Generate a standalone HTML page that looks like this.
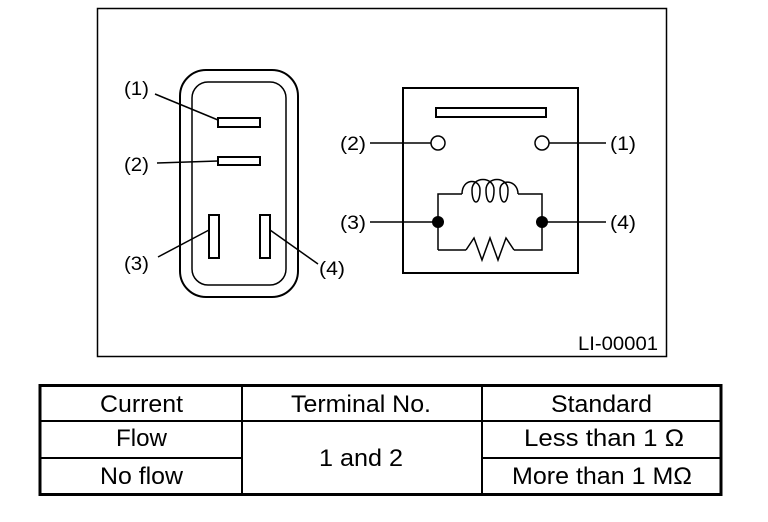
<!DOCTYPE html>
<html><head><style>
body{margin:0;background:#fff;width:768px;height:522px;overflow:hidden;}
svg{position:absolute;left:0;top:0}
text{font-family:"Liberation Sans",Arial,sans-serif;fill:#000}
</style></head><body>
<svg width="768" height="522" viewBox="0 0 768 522">
<g fill="none" stroke="#000">
<rect x="97.5" y="8.5" width="569" height="348" stroke-width="1.5"/>
<rect x="180" y="70" width="118" height="227" rx="26" stroke-width="2"/>
<rect x="192" y="82" width="94" height="203" rx="16" stroke-width="1.5"/>
<rect x="218" y="118" width="42" height="9" stroke-width="2"/>
<rect x="218" y="157" width="42" height="8" stroke-width="2"/>
<rect x="209" y="215" width="10" height="43" stroke-width="2"/>
<rect x="260" y="215" width="10" height="43" stroke-width="2"/>
<line x1="155" y1="94" x2="218" y2="120" stroke-width="1.5"/>
<line x1="157" y1="163" x2="218" y2="161" stroke-width="1.5"/>
<line x1="158" y1="257" x2="209" y2="230" stroke-width="1.5"/>
<line x1="270" y1="230" x2="318" y2="264" stroke-width="1.5"/>
<rect x="403" y="88" width="175" height="185" stroke-width="2"/>
<rect x="436" y="108" width="110" height="9" stroke-width="2"/>
<circle cx="438" cy="143" r="7" stroke-width="1.5"/>
<circle cx="542" cy="143" r="7" stroke-width="1.5"/>
<line x1="370" y1="143" x2="431" y2="143" stroke-width="1.5"/>
<line x1="549" y1="143" x2="606" y2="143" stroke-width="1.5"/>
<line x1="370" y1="222" x2="438" y2="222" stroke-width="1.5"/>
<line x1="542" y1="222" x2="606" y2="222" stroke-width="1.5"/>
<path d="M438 250V194H462 M518 194H542V250H514 M466 250H438" stroke-width="1.5"/>
<path d="M462 194C462 178 480 178 480 190 C480 206 472 206 472 190 C472 176 494 176 494 190 C494 206 486 206 486 190 C486 176 508 176 508 190 C508 206 500 206 500 190 C500 178 518 180 518 194" stroke-width="1.5"/>
<path d="M466 250L474 238L482 260L490 238L498 260L506 238L514 250" stroke-width="1.5"/>
<rect x="40" y="385.5" width="681" height="109" stroke-width="3"/>
<line x1="40" y1="421" x2="721" y2="421" stroke-width="2"/>
<line x1="40" y1="458" x2="242" y2="458" stroke-width="2"/>
<line x1="482" y1="458" x2="721" y2="458" stroke-width="2"/>
<line x1="242" y1="385" x2="242" y2="495" stroke-width="2"/>
<line x1="482" y1="385" x2="482" y2="495" stroke-width="2"/>
</g>
<circle cx="438" cy="222" r="6"/>
<circle cx="542" cy="222" r="6"/>
<g font-size="19">
<text x="124" y="95" textLength="25" lengthAdjust="spacingAndGlyphs">(1)</text>
<text x="124" y="171" textLength="25" lengthAdjust="spacingAndGlyphs">(2)</text>
<text x="124" y="270" textLength="25" lengthAdjust="spacingAndGlyphs">(3)</text>
<text x="319" y="275" textLength="26" lengthAdjust="spacingAndGlyphs">(4)</text>
<text x="340" y="150" textLength="26" lengthAdjust="spacingAndGlyphs">(2)</text>
<text x="610" y="150" textLength="26" lengthAdjust="spacingAndGlyphs">(1)</text>
<text x="340" y="229" textLength="26" lengthAdjust="spacingAndGlyphs">(3)</text>
<text x="610" y="229" textLength="26" lengthAdjust="spacingAndGlyphs">(4)</text>
<text x="578" y="350" textLength="80" lengthAdjust="spacingAndGlyphs">LI-00001</text>
</g>
<g font-size="24">
<text x="100" y="412" textLength="83" lengthAdjust="spacingAndGlyphs">Current</text>
<text x="291" y="412" textLength="140" lengthAdjust="spacingAndGlyphs">Terminal No.</text>
<text x="551" y="412" textLength="101" lengthAdjust="spacingAndGlyphs">Standard</text>
<text x="116" y="446" textLength="51" lengthAdjust="spacingAndGlyphs">Flow</text>
<text x="100" y="484" textLength="83" lengthAdjust="spacingAndGlyphs">No flow</text>
<text x="319" y="466" textLength="84" lengthAdjust="spacingAndGlyphs">1 and 2</text>
<text x="524" y="446" textLength="160" lengthAdjust="spacingAndGlyphs">Less than 1 Ω</text>
<text x="512" y="484" textLength="180" lengthAdjust="spacingAndGlyphs">More than 1 MΩ</text>
</g>
</svg>
</body></html>
